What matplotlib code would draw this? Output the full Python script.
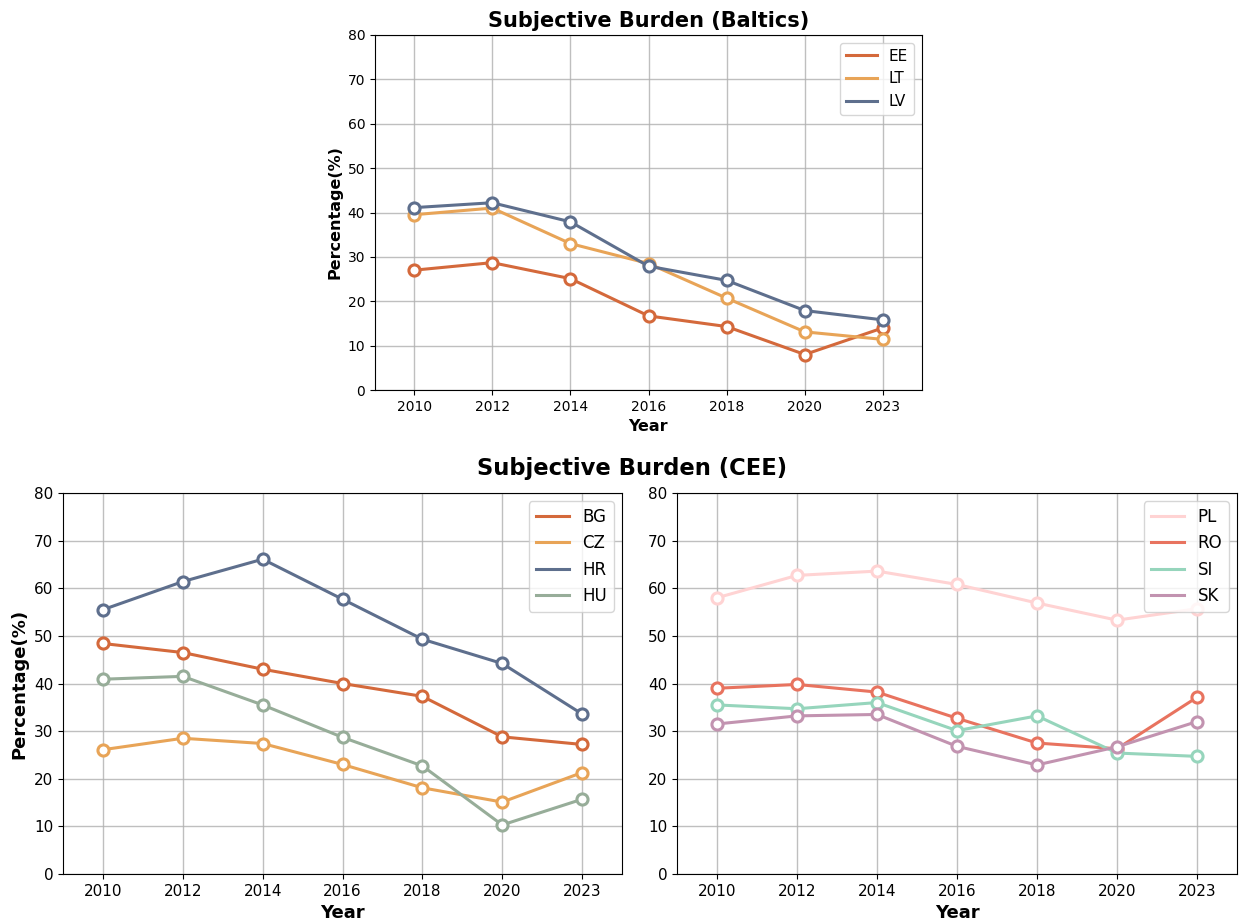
import matplotlib
matplotlib.use("Agg")
import matplotlib.pyplot as plt
from matplotlib.lines import Line2D
import numpy as np

years = ["2010", "2012", "2014", "2016", "2018", "2020", "2023"]

# Baltics
EE = [27.0, 28.7, 25.1, 16.7, 14.3, 8.0, 14.0]
LT = [39.5, 41.0, 33.0, 28.5, 20.7, 13.1, 11.4]
LV = [41.1, 42.2, 37.9, 27.9, 24.7, 17.9, 15.8]

# CEE left
BG = [48.4, 46.5, 43.0, 40.0, 37.3, 28.8, 27.2]
CZ = [26.1, 28.5, 27.4, 23.0, 18.1, 15.1, 21.3]
HR = [55.5, 61.4, 66.1, 57.7, 49.3, 44.2, 33.6]
HU = [40.9, 41.5, 35.5, 28.7, 22.7, 10.3, 15.7]

# CEE right
PL = [58.0, 62.7, 63.6, 60.8, 56.9, 53.3, 55.7]
RO = [39.0, 39.8, 38.2, 32.7, 27.5, 26.3, 37.1]
SI = [35.5, 34.7, 36.0, 30.1, 33.2, 25.4, 24.7]
SK = [31.5, 33.2, 33.5, 26.8, 22.9, 26.7, 32.0]

c_orange = "#D4693B"
c_sand = "#E8A457"
c_slate = "#5E6F8D"
c_sage = "#97AD99"
c_pink = "#FFD3D3"
c_coral = "#E8735F"
c_mint = "#96D5BC"
c_mauve = "#C293B0"

W, H = 1240, 924
fig = plt.figure(figsize=(W / 100, H / 100), dpi=100)


def add_ax(l, t, r, b):
    return fig.add_axes([l / W, 1 - b / H, (r - l) / W, (b - t) / H])


def draw(ax, series, tick_fs, label_fs, legend_fs):
    x = np.arange(len(years))
    handles = []
    for name, vals, col in series:
        ax.plot(x, vals, color=col, lw=2.2, marker="o", ms=8,
                mfc="white", mec=col, mew=2.2, zorder=3)
        handles.append(Line2D([], [], color=col, lw=2.2, label=name))
    ax.set_xticks(x)
    ax.set_xticklabels(years)
    ax.set_xlim(-0.5, len(years) - 0.5)
    ax.set_ylim(0, 80)
    ax.set_yticks(np.arange(0, 81, 10))
    ax.grid(True, color="#b0b0b0", lw=1.0, alpha=0.8)
    ax.set_axisbelow(True)
    ax.tick_params(labelsize=tick_fs)
    ax.set_xlabel("Year", fontsize=label_fs, fontweight="bold")
    ax.legend(handles=handles, loc="upper right", fontsize=legend_fs, framealpha=0.8)
    return ax


ax1 = add_ax(375, 35, 922, 390)
draw(ax1, [("EE", EE, c_orange), ("LT", LT, c_sand), ("LV", LV, c_slate)], 10, 11.5, 11)
ax1.set_ylabel("Percentage(%)", fontsize=11.5, fontweight="bold")
ax1.set_title("Subjective Burden (Baltics)", fontsize=15, fontweight="bold", pad=6)

ax2 = add_ax(63, 493, 622, 874)
draw(ax2, [("BG", BG, c_orange), ("CZ", CZ, c_sand), ("HR", HR, c_slate), ("HU", HU, c_sage)], 11, 13, 12)
ax2.set_ylabel("Percentage(%)", fontsize=13, fontweight="bold")

ax3 = add_ax(677, 493, 1237, 874)
draw(ax3, [("PL", PL, c_pink), ("RO", RO, c_coral), ("SI", SI, c_mint), ("SK", SK, c_mauve)], 11, 13, 12)

fig.text(632 / W, 1 - 469 / H, "Subjective Burden (CEE)", ha="center", va="center",
         fontsize=16.3, fontweight="bold")

fig.savefig("out.png", dpi=100)
